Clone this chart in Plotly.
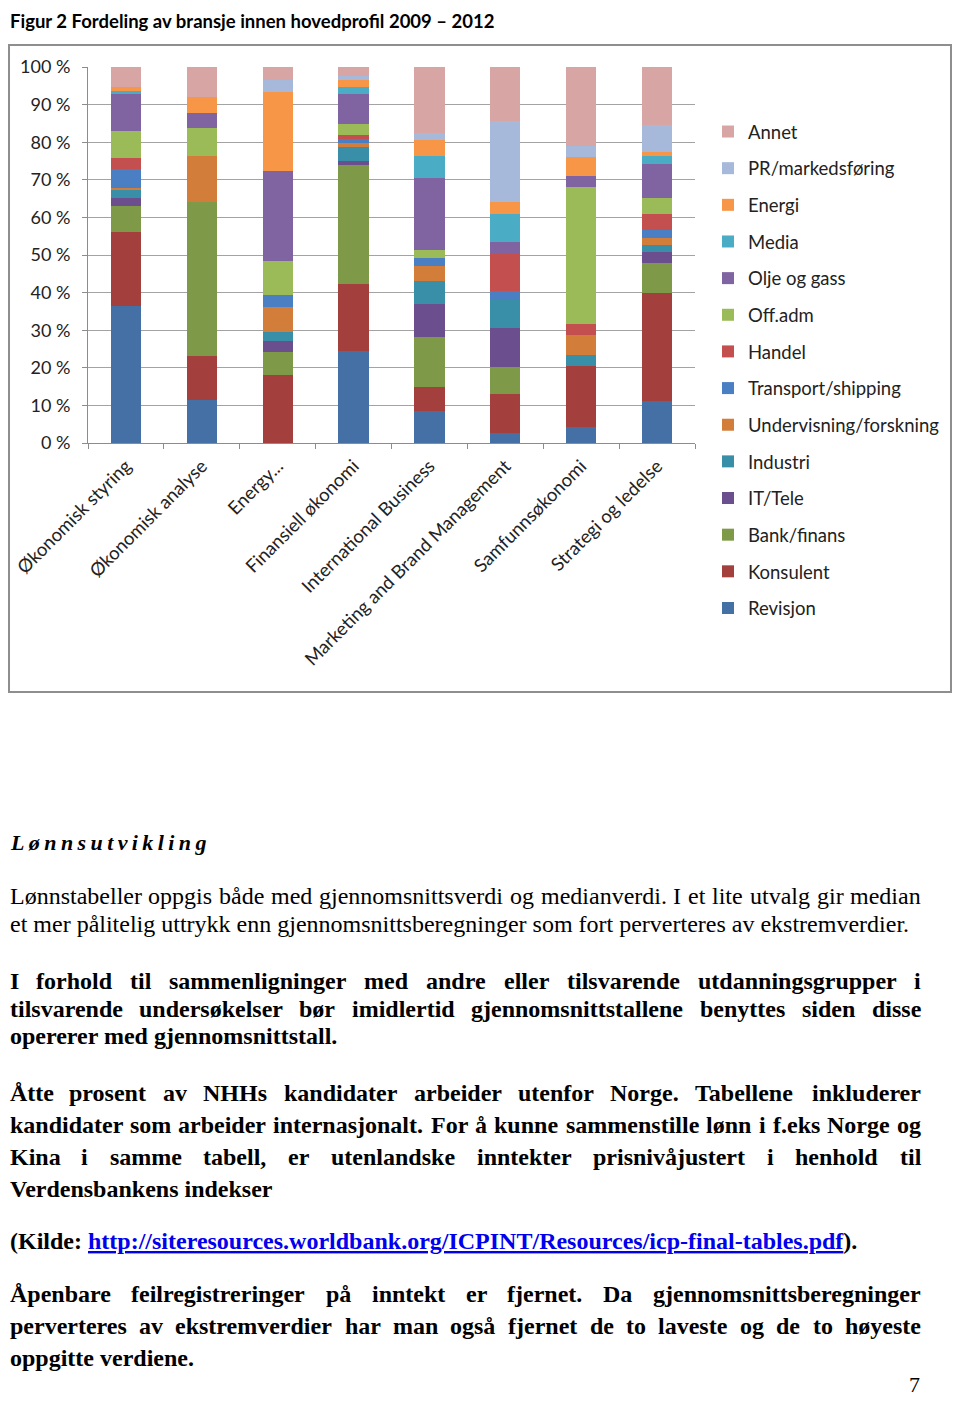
import plotly.graph_objects as go

# the page body adds an 8 px margin on every side; keep the figure inside the window
OFF = 8
FW, FH = 960 - 2 * OFF, 1407 - 2 * OFF

categories = ["Økonomisk styring", "Økonomisk analyse", "Energy...", "Finansiell økonomi",
              "International Business", "Marketing and Brand Management",
              "Samfunnsøkonomi", "Strategi og ledelse"]

# one list per industry, bottom of the stack first (percent of each profile)
revisjon     = [36.5, 11.4, 0.0, 24.6, 8.6, 2.7, 4.3, 11.3]
konsulent    = [19.7, 11.8, 18.1, 17.7, 6.4, 10.3, 16.3, 28.5]
bank_finans  = [6.9, 41.0, 6.0, 31.6, 13.1, 7.1, 0.0, 8.0]
it_tele      = [2.0, 0.0, 2.9, 1.1, 9.0, 10.4, 0.0, 2.9]
industri     = [2.2, 0.0, 2.6, 3.6, 6.1, 7.5, 2.8, 2.0]
undervisning = [0.6, 12.0, 6.5, 1.1, 4.0, 0.0, 5.2, 1.9]
transport    = [5.1, 0.0, 3.2, 1.2, 2.1, 2.5, 0.0, 2.0]
handel       = [2.7, 0.0, 0.0, 1.0, 0.0, 9.7, 3.0, 4.2]
off_adm      = [7.3, 7.5, 9.1, 2.9, 1.9, 0.0, 36.4, 4.3]
olje_gass    = [9.7, 4.2, 23.9, 7.9, 19.4, 3.3, 3.0, 9.1]
media        = [1.0, 0.0, 0.0, 2.1, 5.7, 7.4, 0.0, 2.0]
energi       = [1.1, 4.0, 21.1, 1.7, 4.3, 3.1, 5.0, 1.1]
pr_marked    = [0.0, 0.0, 3.1, 1.1, 1.8, 21.6, 3.0, 7.3]
annet        = [5.2, 8.1, 3.5, 2.4, 17.6, 14.4, 21.0, 15.4]

series = [
    ("Revisjon", revisjon, "#4570A6"),
    ("Konsulent", konsulent, "#A33F3C"),
    ("Bank/finans", bank_finans, "#7E9A48"),
    ("IT/Tele", it_tele, "#6A4E8D"),
    ("Industri", industri, "#3A8FA8"),
    ("Undervisning/forskning", undervisning, "#D27E3A"),
    ("Transport/shipping", transport, "#4B7FC4"),
    ("Handel", handel, "#C3504E"),
    ("Off.adm", off_adm, "#9BBB59"),
    ("Olje og gass", olje_gass, "#8064A2"),
    ("Media", media, "#4BACC6"),
    ("Energi", energi, "#F79646"),
    ("PR/markedsføring", pr_marked, "#A6B9DA"),
    ("Annet", annet, "#D8A5A5"),
]

y_ticks = [0, 10, 20, 30, 40, 50, 60, 70, 80, 90, 100]
y_ticktext = [f"{v} %" for v in y_ticks]

title_text = "Figur 2 Fordeling av bransje innen hovedprofil 2009 – 2012"
heading = "Lønnsutvikling"
url = "http://siteresources.worldbank.org/ICPINT/Resources/icp-final-tables.pdf"

# (text, y centre in px, bold, justified)
text_lines = [
    ("Lønnstabeller oppgis både med gjennomsnittsverdi og medianverdi. I et lite utvalg gir median", 896, False, True),
    ("et mer pålitelig uttrykk enn gjennomsnittsberegninger som fort perverteres av ekstremverdier.", 924, False, False),
    ("I forhold til sammenligninger med andre eller tilsvarende utdanningsgrupper i", 981, True, True),
    ("tilsvarende undersøkelser bør imidlertid gjennomsnittstallene benyttes siden disse", 1009, True, True),
    ("opererer med gjennomsnittstall.", 1036, True, False),
    ("Åtte prosent av NHHs kandidater arbeider utenfor Norge. Tabellene inkluderer", 1093, True, True),
    ("kandidater som arbeider internasjonalt. For å kunne sammenstille lønn i f.eks Norge og", 1125, True, True),
    ("Kina i samme tabell, er utenlandske inntekter prisnivåjustert i henhold til", 1157, True, True),
    ("Verdensbankens indekser", 1189, True, False),
    ("Åpenbare feilregistreringer på inntekt er fjernet. Da gjennomsnittsberegninger", 1294, True, True),
    ("perverteres av ekstremverdier har man også fjernet de to laveste og de to høyeste", 1326, True, True),
    ("oppgitte verdiene.", 1358, True, False),
]

# Times (Liberation Serif) advance widths, 1/1000 em, used to justify lines
LOWER = "abcdefghijklmnopqrstuvwxyz"
UPPER = LOWER.upper()
REG_W = dict(zip(LOWER, [444, 500, 444, 500, 444, 333, 500, 500, 278, 278, 500, 278, 778,
                         500, 500, 500, 500, 333, 389, 278, 500, 500, 722, 500, 500, 444]))
REG_W.update(zip(UPPER, [722, 667, 667, 722, 611, 556, 722, 722, 333, 389, 722, 611, 889,
                         722, 722, 556, 722, 667, 556, 611, 722, 722, 944, 722, 722, 611]))
REG_W.update({"ø": 500, "å": 444, "Å": 722, "Ø": 722, ".": 250, ",": 250, ":": 278,
              "(": 333, ")": 333, "/": 278, "-": 333})
BOLD_W = dict(zip(LOWER, [500, 556, 444, 556, 444, 333, 500, 556, 278, 333, 556, 278, 833,
                          556, 500, 556, 556, 444, 389, 333, 556, 500, 722, 500, 500, 444]))
BOLD_W.update(zip(UPPER, [722, 667, 722, 722, 667, 611, 778, 778, 389, 500, 778, 667, 944,
                          722, 778, 611, 778, 722, 556, 667, 722, 722, 1000, 722, 722, 667]))
BOLD_W.update({"ø": 500, "å": 500, "Å": 722, "Ø": 778, ".": 250, ",": 250, ":": 333,
               "(": 333, ")": 333, "/": 278, "-": 333})

TEXT_SIZE = 24
LEFT, RIGHT = 8, 920
CHART_FONT = 18.5


def px_x(x):
    return (x - OFF) / FW


def px_y(y):
    return 1 - (y - OFF) / FH


fig = go.Figure()

# stacking follows trace order; legendrank puts Annet on top of the legend
for i, (name, vals, color) in enumerate(series):
    fig.add_trace(go.Bar(
        x=categories, y=vals, name=name, legendgroup=name,
        legendrank=1000 - i,
        marker=dict(color=color, line=dict(width=0)),
    ))

fig.update_layout(
    width=FW, height=FH,
    margin=dict(l=0, r=0, t=0, b=0),
    paper_bgcolor="white", plot_bgcolor="white",
    barmode="stack", bargap=0.6,
    font=dict(family="Lato", size=CHART_FONT, color="#222222"),
    showlegend=True,
    legend=dict(
        x=px_x(708), y=px_y(113), xanchor="left", yanchor="top",
        traceorder="grouped", tracegroupgap=9.6,
        font=dict(family="Lato", size=CHART_FONT, color="#222222"),
        bgcolor="rgba(0,0,0,0)",
    ),
)

fig.update_xaxes(
    domain=[px_x(88), px_x(695)], automargin=False,
    tickangle=-45, tickfont=dict(family="Lato", size=CHART_FONT, color="#222222"),
    showline=True, linecolor="#8C8C8C", linewidth=1,
    ticks="outside", tickson="boundaries", ticklen=5, tickcolor="#8C8C8C",
    ticklabelstandoff=4, showgrid=False,
)
fig.update_yaxes(
    domain=[px_y(443), px_y(67)], automargin=False,
    range=[0, 100], tickvals=y_ticks, ticktext=y_ticktext,
    tickfont=dict(family="Lato", size=18, color="#222222"),
    showgrid=True, gridcolor="#A3A3A3", gridwidth=1,
    showline=True, linecolor="#8C8C8C", linewidth=1,
    ticks="outside", ticklen=5, tickcolor="#8C8C8C", ticklabelstandoff=8,
    zeroline=False,
)

# chart frame
fig.add_shape(type="rect", xref="paper", yref="paper",
              x0=1 / FW, x1=1 - 1 / FW, y0=px_y(692), y1=px_y(45),
              line=dict(color="#8E8E8E", width=2), fillcolor="rgba(0,0,0,0)", layer="below")

# figure caption
fig.add_annotation(text=f"<b>{title_text}</b>", xref="paper", yref="paper",
                   x=0, y=1, xanchor="left", yanchor="top", showarrow=False,
                   font=dict(family="Lato", size=18.5, color="black"))

# section heading, letter spaced
spaced = "\u2009".join(heading)
fig.add_annotation(text=f"<b><i>{spaced}</i></b>", xref="paper", yref="paper",
                   x=0, y=px_y(842), xanchor="left", yanchor="middle", showarrow=False,
                   font=dict(family="Liberation Serif", size=22, color="black"))

# body text
serif = dict(family="Liberation Serif", size=TEXT_SIZE, color="black")
for text, ypx, bold, justify in text_lines:
    if not justify:
        t = f"<b>{text}</b>" if bold else text
        fig.add_annotation(text=t, xref="paper", yref="paper", x=0, y=px_y(ypx),
                           xanchor="left", yanchor="middle", showarrow=False, font=serif)
        continue
    table = BOLD_W if bold else REG_W
    words = text.split()
    widths = [sum(table.get(c, 500) for c in w) * TEXT_SIZE / 1000 for w in words]
    gap = (RIGHT - LEFT - sum(widths)) / (len(words) - 1)
    x = LEFT
    for w, wd in zip(words, widths):
        t = f"<b>{w}</b>" if bold else w
        fig.add_annotation(text=t, xref="paper", yref="paper", x=max(px_x(x - 1), 0), y=px_y(ypx),
                           xanchor="left", yanchor="middle", showarrow=False, font=serif)
        x += wd + gap

link = (f"<b>(Kilde: <span style=\"color:#0000EE;text-decoration:underline\">{url}</span>).</b>")
fig.add_annotation(text=link, xref="paper", yref="paper", x=0, y=px_y(1241),
                   xanchor="left", yanchor="middle", showarrow=False, font=serif)

fig.add_annotation(text="7", xref="paper", yref="paper", x=px_x(922), y=0,
                   xanchor="right", yanchor="bottom", showarrow=False,
                   font=dict(family="Liberation Serif", size=22, color="black"))

fig.write_html("out.html")
